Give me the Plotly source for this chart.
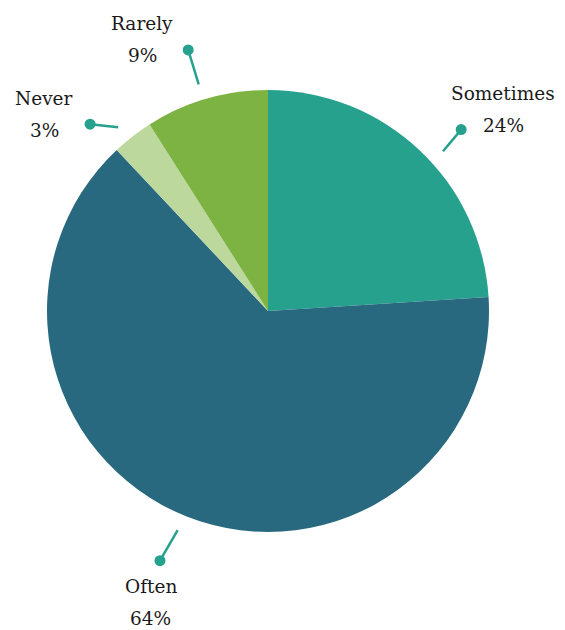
import math
import plotly.graph_objects as go

# ---- data ----
categories = ["Sometimes", "Often", "Never", "Rarely"]
values = [24, 64, 3, 9]

# ---- style ----
colors = ["#26A18E", "#29697F", "#BDD89C", "#7CB342"]
leader_color = "#26A18E"
text_color = "#1a1a1a"
font_family = "DejaVu Serif, Liberation Serif, serif"
PAGE_OFF = 8                       # default body margin of the html page
W, H = 565 - PAGE_OFF, 630 - PAGE_OFF
cx, cy, R = 268 - PAGE_OFF, 311 - PAGE_OFF, 221   # pie centre / radius (px)
start_nudge_deg = [4.4, 0.8, -1.4, -0.8]   # label collision nudges
dot_nudge_deg = [3.6, 1.8, -5.8, -0.8]
dot_radius = [265, 272, 258, 273]
label_side = ["right", "below", "left", "left"]
r_line0 = 237

def px(x):
    return x / W

def py(y):
    return 1 - y / H

fig = go.Figure(go.Pie(
    labels=categories,
    values=values,
    sort=False,
    direction="clockwise",
    rotation=0,
    marker=dict(colors=colors, line=dict(width=0)),
    textinfo="none",
    hoverinfo="label+percent",
    showlegend=False,
    domain=dict(x=[px(cx - R), px(cx + R)], y=[py(cy + R), py(cy - R)]),
))

total = sum(values)
shapes, annotations = [], []
cum = 0
for i, (cat, v) in enumerate(zip(categories, values)):
    mid = (cum + v / 2) / total * 360
    cum += v
    a0 = math.radians(mid + start_nudge_deg[i])
    a1 = math.radians(mid + dot_nudge_deg[i])
    r_dot = dot_radius[i]
    x0, y0 = cx + r_line0 * math.sin(a0), cy - r_line0 * math.cos(a0)
    x1, y1 = cx + r_dot * math.sin(a1), cy - r_dot * math.cos(a1)
    shapes.append(dict(type="line", xref="paper", yref="paper",
                       x0=px(x0), y0=py(y0), x1=px(x1), y1=py(y1),
                       line=dict(color=leader_color, width=2.5)))
    shapes.append(dict(type="circle", xref="paper", yref="paper",
                       xsizemode="pixel", ysizemode="pixel",
                       xanchor=px(x1), yanchor=py(y1),
                       x0=-5.5, x1=5.5, y0=-5.5, y1=5.5,
                       fillcolor=leader_color, line=dict(width=0)))
    side = label_side[i]
    if side == "right":
        lx, ly = x1 + 42, y1 - 20
    elif side == "left":
        lx, ly = x1 - 46, y1 - 10
    else:
        lx, ly = x1 - 9, y1 + 42
    pct = f"{v / total * 100:.0f}%"
    for txt, dy in ((cat, -16), (pct, 16)):
        annotations.append(dict(x=px(lx), y=py(ly + dy), xref="paper", yref="paper",
                                text=txt, showarrow=False, xanchor="center",
                                yanchor="middle",
                                font=dict(family=font_family, size=18.5, color=text_color)))

fig.update_layout(
    width=W, height=H,
    margin=dict(l=0, r=0, t=0, b=0),
    paper_bgcolor="white",
    plot_bgcolor="white",
    shapes=shapes,
    annotations=annotations,
)

fig.write_html("out.html")
